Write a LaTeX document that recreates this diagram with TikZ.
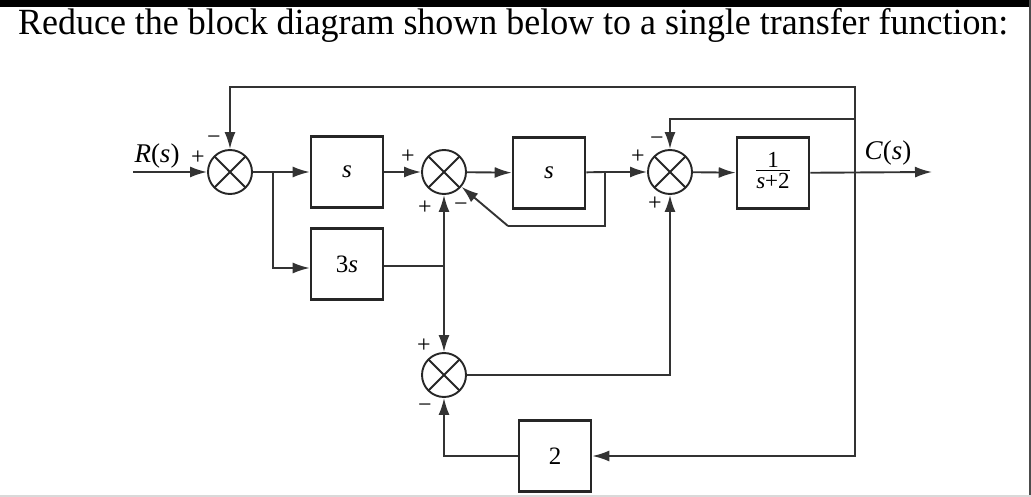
\documentclass[tikz,border=0pt]{standalone}
\usepackage{fontspec}
\setmainfont{Liberation Serif}
\usetikzlibrary{arrows.meta,calc}
\begin{document}
\begin{tikzpicture}[x=1pt,y=-1pt,
 line/.style={draw=black!80, line width=1.9pt},
 arr/.style={line, -{Latex[length=17pt,width=11pt]}},
 blk/.style={draw=black!85, line width=2.6pt, minimum width=72pt, minimum height=71pt, inner sep=0pt, font=\fontsize{25}{27}\selectfont},
 sumj/.style={draw=black!85, line width=1.9pt, circle, minimum size=44pt, inner sep=0pt,
   path picture={\draw[black!85,line width=1.9pt] (path picture bounding box.north west)--(path picture bounding box.south east) (path picture bounding box.north east)--(path picture bounding box.south west);}},
 sgn/.style={font=\fontsize{24}{24}\selectfont, inner sep=0pt},
 lab/.style={font=\fontsize{27}{27}\selectfont, inner sep=0pt}
]
\useasboundingbox (0,0) rectangle (1031,497);
\fill[white] (0,0) rectangle (1031,497);
\fill[black] (0,0) rectangle (1031,7);
\fill[black!70] (1029,0) rectangle (1031,497);
\fill[black!15] (0,495) rectangle (1031,497);

\node[anchor=base west, inner sep=0pt] (title) at (18,35) {\resizebox{990pt}{26pt}{Reduce the block diagram shown below to a single transfer function:}};

% junctions and blocks
\node[sumj] (s1) at (230,172) {};
\node[blk] (b1) at (347,172) {\itshape s};
\node[blk] (b3) at (347,264) {3\itshape s};
\node[sumj] (s2) at (444,172) {};
\node[blk] (b2) at (549,173) {\itshape s};
\node[sumj] (s3) at (670,172) {};
\node[blk, font=\fontsize{23}{25}\selectfont] (b4) at (773,173) {\begin{tabular}{@{}c@{}}1\\[-5pt]\hline\rule{0pt}{18pt}\textit{s}+2\end{tabular}};
\node[sumj] (s4) at (444,375) {};
\node[blk] (b5) at (555,456) {2};

% coordinates
\coordinate (rin) at (133,172);
\coordinate (cout) at (932,172);
\coordinate (tapc) at (855,172);
\coordinate (top1) at (855,87);
\coordinate (top2) at (855,119);
\coordinate (br1) at (273,172);
\coordinate (j3) at (444,266);
\coordinate (br2) at (605,172);
\coordinate (br2d) at (605,226);
\coordinate (br2l) at (508,226);

% connectors
\draw[arr] (rin) -- (s1);
\draw[line] (s1) -- (br1);
\draw[arr] (br1) -- (b1);
\draw[arr] (br1) |- ($(b3.west)+(0,4)$);
\draw[arr] (b1) -- (s2);
\draw[line] ($(b3.east)+(0,2)$) -- (j3);
\draw[arr] (j3) -- (s2);
\draw[arr] (j3) -- (s4);
\draw[arr] (s2) -- (b2);
\draw[line] (b2) -- (br2) -- (br2d) -- (br2l);
\draw[arr] (br2l) -- (s2);
\draw[arr] (br2) -- (s3);
\draw[arr] (s3) -- (b4);
\draw[arr] (b4) -- (cout);
\draw[arr] (tapc) -- (top1) -| (s1);
\draw[arr] (top2) -| (s3);
\draw[arr] (tapc) |- (b5);
\draw[arr] (b5) -| (s4);
\draw[arr] (s4) -| (s3);

% labels
\node[lab] (rlab) at (157,156) {\textit{R}(\textit{s})};
\node[lab] (clab) at (888,153) {\textit{C}(\textit{s})};
\node[sgn] (p1) at (198,158) {+};
\node[sgn] (m1) at (214,140) {\char"2212};
\node[sgn] (p2) at (408,157) {+};
\node[sgn] (p3) at (425,208) {+};
\node[sgn] (m3) at (461,207) {\char"2212};
\node[sgn] (p4) at (638,157) {+};
\node[sgn] (m4) at (657,141) {\char"2212};
\node[sgn] (p5) at (655,204) {+};
\node[sgn] (p6) at (424,346) {+};
\node[sgn] (m6) at (425,408) {\char"2212};
\end{tikzpicture}
\end{document}
